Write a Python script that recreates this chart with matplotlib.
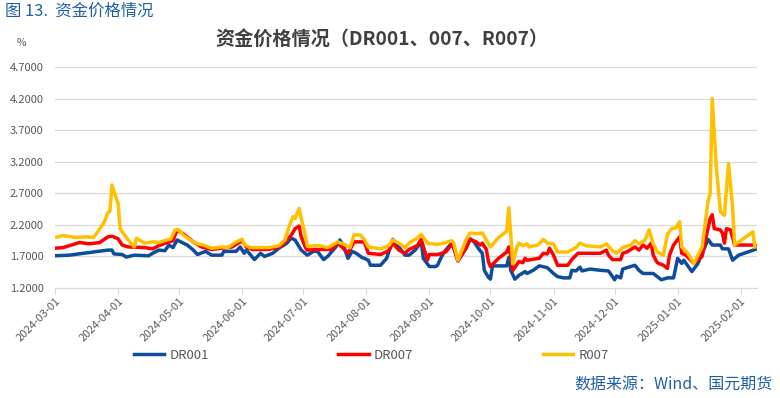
import numpy as np
import pandas as pd
import matplotlib
matplotlib.use('Agg')
import matplotlib.pyplot as plt
import matplotlib.dates as mdates

plt.rcParams['font.family'] = ['Noto Sans CJK SC', 'DejaVu Sans']

# DR001
dr001_dates = ['2024-03-01', '2024-03-08', '2024-03-15', '2024-03-20', '2024-03-27', '2024-03-29', '2024-03-30',
               '2024-04-03', '2024-04-05', '2024-04-09', '2024-04-16', '2024-04-18', '2024-04-21', '2024-04-24',
               '2024-04-26', '2024-04-28', '2024-04-30', '2024-05-05', '2024-05-08', '2024-05-10', '2024-05-14',
               '2024-05-17', '2024-05-22', '2024-05-23', '2024-05-29', '2024-05-31', '2024-06-02', '2024-06-03',
               '2024-06-05', '2024-06-07', '2024-06-10', '2024-06-12', '2024-06-16', '2024-06-19', '2024-06-23',
               '2024-06-25', '2024-06-27', '2024-06-30', '2024-07-03', '2024-07-06', '2024-07-08', '2024-07-11',
               '2024-07-13', '2024-07-17', '2024-07-19', '2024-07-21', '2024-07-23', '2024-07-25', '2024-07-27',
               '2024-07-30', '2024-07-31', '2024-08-02', '2024-08-03', '2024-08-08', '2024-08-11', '2024-08-14',
               '2024-08-17', '2024-08-20', '2024-08-22', '2024-08-25', '2024-08-28', '2024-08-29', '2024-09-01',
               '2024-09-04', '2024-09-05', '2024-09-07', '2024-09-09', '2024-09-12', '2024-09-13', '2024-09-15',
               '2024-09-19', '2024-09-21', '2024-09-23', '2024-09-25', '2024-09-27', '2024-09-28', '2024-09-30',
               '2024-10-01', '2024-10-02', '2024-10-09', '2024-10-10', '2024-10-11', '2024-10-13', '2024-10-15',
               '2024-10-18', '2024-10-19', '2024-10-22', '2024-10-25', '2024-10-28', '2024-10-29', '2024-11-01',
               '2024-11-03', '2024-11-06', '2024-11-09', '2024-11-10', '2024-11-12', '2024-11-14', '2024-11-15',
               '2024-11-19', '2024-11-24', '2024-11-28', '2024-11-30', '2024-12-01', '2024-12-02', '2024-12-04',
               '2024-12-05', '2024-12-09', '2024-12-11', '2024-12-13', '2024-12-15', '2024-12-20', '2024-12-24',
               '2024-12-27', '2024-12-30', '2025-01-01', '2025-01-03', '2025-01-04', '2025-01-08', '2025-01-11',
               '2025-01-13', '2025-01-16', '2025-01-18', '2025-01-22', '2025-01-23', '2025-01-26', '2025-01-28',
               '2025-01-31', '2025-02-09']
dr001_vals = [1.71, 1.72, 1.75, 1.77, 1.80, 1.80, 1.74,
              1.73, 1.69, 1.72, 1.71, 1.75, 1.80, 1.79,
              1.88, 1.84, 1.96, 1.88, 1.80, 1.73, 1.78,
              1.72, 1.72, 1.78, 1.78, 1.85, 1.75, 1.80,
              1.73, 1.65, 1.75, 1.70, 1.75, 1.83, 1.91,
              1.99, 1.96, 1.80, 1.72, 1.78, 1.78, 1.65,
              1.70, 1.85, 1.96, 1.85, 1.67, 1.78, 1.75,
              1.68, 1.67, 1.64, 1.56, 1.56, 1.67, 1.97,
              1.85, 1.72, 1.72, 1.80, 1.93, 1.67, 1.54,
              1.54, 1.56, 1.70, 1.80, 1.91, 1.85, 1.63,
              1.83, 1.98, 1.93, 1.83, 1.75, 1.48, 1.37,
              1.34, 1.55, 1.55, 1.68, 1.48, 1.34, 1.40,
              1.46, 1.43, 1.48, 1.55, 1.53, 1.52, 1.43,
              1.38, 1.36, 1.36, 1.48, 1.47, 1.53, 1.47,
              1.50, 1.48, 1.47, 1.38, 1.33, 1.39, 1.36,
              1.50, 1.54, 1.56, 1.48, 1.43, 1.43, 1.33,
              1.36, 1.36, 1.67, 1.59, 1.64, 1.46, 1.59,
              1.75, 1.97, 1.88, 1.88, 1.82, 1.82, 1.64,
              1.72, 1.82]

# DR007
dr007_dates = ['2024-03-01', '2024-03-05', '2024-03-08', '2024-03-13', '2024-03-18', '2024-03-23', '2024-03-27',
               '2024-03-29', '2024-04-01', '2024-04-03', '2024-04-06', '2024-04-14', '2024-04-18', '2024-04-21',
               '2024-04-26', '2024-04-28', '2024-04-30', '2024-05-03', '2024-05-08', '2024-05-12', '2024-05-17',
               '2024-05-22', '2024-05-27', '2024-05-31', '2024-06-01', '2024-06-03', '2024-06-06', '2024-06-14',
               '2024-06-20', '2024-06-23', '2024-06-25', '2024-06-27', '2024-06-29', '2024-06-30', '2024-07-02',
               '2024-07-03', '2024-07-09', '2024-07-15', '2024-07-18', '2024-07-20', '2024-07-23', '2024-07-26',
               '2024-07-31', '2024-08-02', '2024-08-08', '2024-08-12', '2024-08-14', '2024-08-17', '2024-08-20',
               '2024-08-22', '2024-08-26', '2024-08-28', '2024-08-31', '2024-09-01', '2024-09-05', '2024-09-09',
               '2024-09-12', '2024-09-13', '2024-09-15', '2024-09-19', '2024-09-21', '2024-09-24', '2024-09-26',
               '2024-09-27', '2024-09-29', '2024-09-30', '2024-10-01', '2024-10-05', '2024-10-09', '2024-10-10',
               '2024-10-11', '2024-10-12', '2024-10-15', '2024-10-17', '2024-10-18', '2024-10-19', '2024-10-25',
               '2024-10-27', '2024-10-29', '2024-10-30', '2024-11-01', '2024-11-03', '2024-11-08', '2024-11-10',
               '2024-11-13', '2024-11-24', '2024-11-27', '2024-11-28', '2024-11-30', '2024-12-04', '2024-12-05',
               '2024-12-07', '2024-12-11', '2024-12-13', '2024-12-15', '2024-12-17', '2024-12-19', '2024-12-20',
               '2024-12-22', '2024-12-25', '2024-12-27', '2024-12-28', '2024-12-30', '2025-01-02', '2025-01-03',
               '2025-01-05', '2025-01-09', '2025-01-13', '2025-01-15', '2025-01-17', '2025-01-18', '2025-01-19',
               '2025-01-22', '2025-01-23', '2025-01-24', '2025-01-25', '2025-01-27', '2025-01-29', '2025-02-08',
               '2025-02-09']
dr007_vals = [1.83, 1.84, 1.87, 1.92, 1.90, 1.92, 2.01,
              2.02, 1.98, 1.88, 1.85, 1.84, 1.82, 1.87,
              1.93, 1.95, 2.12, 2.06, 1.93, 1.85, 1.81,
              1.83, 1.85, 1.93, 1.94, 1.85, 1.81, 1.81,
              1.86, 1.96, 2.03, 2.14, 2.18, 2.01, 1.85,
              1.80, 1.81, 1.81, 1.91, 1.85, 1.75, 1.93,
              1.93, 1.75, 1.73, 1.79, 1.91, 1.80, 1.75,
              1.81, 1.87, 1.97, 1.64, 1.73, 1.73, 1.77,
              1.89, 1.83, 1.63, 1.83, 1.97, 1.93, 1.88,
              1.91, 1.81, 1.62, 1.54, 1.67, 1.77, 1.85,
              1.70, 1.48, 1.62, 1.60, 1.67, 1.64, 1.67,
              1.75, 1.74, 1.83, 1.72, 1.56, 1.56, 1.65,
              1.75, 1.75, 1.80, 1.72, 1.65, 1.65, 1.75,
              1.77, 1.85, 1.80, 1.88, 1.83, 1.91, 1.72,
              1.60, 1.56, 1.51, 1.72, 1.88, 2.01, 1.75,
              1.72, 1.59, 1.70, 2.01, 2.30, 2.36, 2.14,
              2.12, 2.07, 1.91, 2.14, 2.12, 1.88, 1.88,
              1.85]

# R007
r007_dates = ['2024-03-01', '2024-03-05', '2024-03-11', '2024-03-16', '2024-03-20', '2024-03-22', '2024-03-25',
              '2024-03-27', '2024-03-28', '2024-03-29', '2024-04-01', '2024-04-02', '2024-04-03', '2024-04-06',
              '2024-04-09', '2024-04-10', '2024-04-12', '2024-04-14', '2024-04-18', '2024-04-21', '2024-04-24',
              '2024-04-27', '2024-04-29', '2024-05-01', '2024-05-03', '2024-05-07', '2024-05-10', '2024-05-13',
              '2024-05-17', '2024-05-22', '2024-05-25', '2024-05-29', '2024-06-01', '2024-06-02', '2024-06-05',
              '2024-06-14', '2024-06-19', '2024-06-22', '2024-06-24', '2024-06-26', '2024-06-27', '2024-06-29',
              '2024-06-30', '2024-07-02', '2024-07-03', '2024-07-09', '2024-07-13', '2024-07-18', '2024-07-21',
              '2024-07-24', '2024-07-26', '2024-07-29', '2024-07-31', '2024-08-02', '2024-08-08', '2024-08-12',
              '2024-08-14', '2024-08-17', '2024-08-20', '2024-08-22', '2024-08-26', '2024-08-28', '2024-08-31',
              '2024-09-05', '2024-09-08', '2024-09-12', '2024-09-13', '2024-09-15', '2024-09-19', '2024-09-21',
              '2024-09-24', '2024-09-27', '2024-09-29', '2024-10-01', '2024-10-05', '2024-10-09', '2024-10-10',
              '2024-10-11', '2024-10-12', '2024-10-14', '2024-10-15', '2024-10-17', '2024-10-19', '2024-10-20',
              '2024-10-24', '2024-10-25', '2024-10-27', '2024-10-29', '2024-11-01', '2024-11-03', '2024-11-08',
              '2024-11-12', '2024-11-14', '2024-11-17', '2024-11-24', '2024-11-27', '2024-11-30', '2024-12-02',
              '2024-12-05', '2024-12-09', '2024-12-11', '2024-12-13', '2024-12-16', '2024-12-18', '2024-12-20',
              '2024-12-22', '2024-12-25', '2024-12-27', '2024-12-29', '2024-12-31', '2025-01-02', '2025-01-03',
              '2025-01-06', '2025-01-09', '2025-01-13', '2025-01-14', '2025-01-16', '2025-01-17', '2025-01-18',
              '2025-01-20', '2025-01-22', '2025-01-24', '2025-01-26', '2025-01-28', '2025-01-29', '2025-02-07',
              '2025-02-08']
r007_vals = [2.00, 2.03, 2.00, 2.01, 2.00, 2.09, 2.23,
             2.39, 2.42, 2.83, 2.54, 2.15, 2.09, 1.96,
             1.85, 1.99, 1.95, 1.91, 1.93, 1.92, 1.95,
             1.98, 2.12, 2.12, 2.04, 1.95, 1.90, 1.88,
             1.83, 1.85, 1.84, 1.93, 1.97, 1.89, 1.84,
             1.84, 1.87, 1.96, 2.17, 2.33, 2.30, 2.46,
             2.30, 2.04, 1.86, 1.87, 1.84, 1.93, 1.89,
             1.84, 2.04, 2.04, 1.97, 1.85, 1.82, 1.87,
             1.96, 1.91, 1.84, 1.91, 1.99, 2.05, 1.91,
             1.89, 1.91, 1.95, 1.91, 1.64, 1.96, 2.07,
             2.06, 2.07, 1.96, 1.85, 2.00, 2.10, 2.47,
             2.05, 1.58, 1.85, 1.91, 1.87, 1.90, 1.85,
             1.88, 1.90, 1.97, 1.91, 1.90, 1.77, 1.77,
             1.84, 1.91, 1.87, 1.85, 1.90, 1.79, 1.75,
             1.84, 1.88, 1.95, 1.90, 1.96, 2.12, 1.90,
             1.77, 1.72, 2.05, 2.14, 2.15, 2.25, 1.85,
             1.75, 1.59, 1.85, 2.09, 2.59, 2.70, 4.20,
             3.12, 2.41, 2.35, 3.17, 2.49, 1.88, 2.09,
             1.85]

series_names = ['DR001', 'DR007', 'R007']
series_colors = ['#0D4C9E', '#FF0000', '#FFC000']
y_ticks = [1.2, 1.7, 2.2, 2.7, 3.2, 3.7, 4.2, 4.7]
month_ticks = pd.date_range('2024-03-01', '2025-02-01', freq='MS')

fig = plt.figure(figsize=(7.8, 3.98), dpi=100)
ax = fig.add_axes([0.0705, 0.2764, 0.9, 0.5553])

all_series = [(dr001_dates, dr001_vals), (dr007_dates, dr007_vals), (r007_dates, r007_vals)]
for (d, v), name, c in zip(all_series, series_names, series_colors):
    ax.plot(pd.to_datetime(d), v, color=c, lw=2.5, label=name, solid_joinstyle='round')

ax.set_xlim(pd.Timestamp('2024-03-01'), pd.Timestamp('2025-02-09'))
ax.set_ylim(1.2, 4.7)
ax.set_yticks(y_ticks)
ax.set_yticklabels([f'{t:.4f}' for t in y_ticks])
ax.set_xticks(month_ticks)
ax.xaxis.set_major_formatter(mdates.DateFormatter('%Y-%m-%d'))
plt.setp(ax.get_xticklabels(), rotation=45, ha='right', rotation_mode='anchor')

ax.grid(axis='y', color='#d9d9d9', lw=0.9)
ax.set_axisbelow(True)
for s in ['top', 'right', 'left']:
    ax.spines[s].set_visible(False)
ax.spines['bottom'].set_color('#d9d9d9')
ax.tick_params(axis='y', length=0, labelsize=8, colors='#595959', pad=8)
ax.tick_params(axis='x', length=4, color='#d9d9d9', labelsize=8, labelcolor='#595959', pad=2)

fig.text(0.007, 0.973, '图 13.  资金价格情况', color='#1F5FA8', fontsize=11.8, va='center', ha='left')
fig.text(0.49, 0.9, '资金价格情况（DR001、007、R007）', color='#404040', fontsize=13.8,
         fontweight='bold', ha='center', va='center')
fig.text(0.028, 0.893, '%', color='#595959', fontsize=7.5, ha='center', va='center')
fig.text(0.991, 0.033, '数据来源：Wind、国元期货', color='#1F5FA8', fontsize=11.5, ha='right', va='center')

fig.legend(loc='center', bbox_to_anchor=(0.476, 0.108), ncol=3, frameon=False, fontsize=9.5,
           labelcolor='#595959', handlelength=2.3, columnspacing=9.8, handletextpad=0.4)

fig.savefig('out.png', dpi=100)
